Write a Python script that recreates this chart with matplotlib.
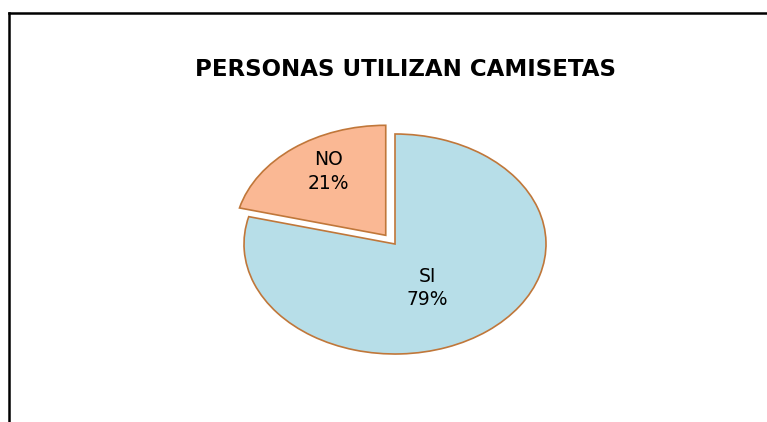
import matplotlib
matplotlib.use("Agg")
import matplotlib.pyplot as plt
import numpy as np

# data
categories = ["SI", "NO"]
values = [79, 21]
colors = ["#B7DEE8", "#FAB894"]
explode = [0, 0.1]
# label placement (radius, angle shift in degrees) inside each slice
label_dist = [0.455, 0.695]
label_shift = [-9.5, -4.0]

edge_color = "#C0773A"

fig = plt.figure(figsize=(7.67, 4.22), dpi=100)

# frame lines (top and left edge of the chart area)
fig.add_artist(plt.Line2D([9 / 767, 9 / 767], [0, 1 - 13 / 422], color="black", lw=1.8))
fig.add_artist(plt.Line2D([9 / 767, 1], [1 - 13 / 422, 1 - 13 / 422], color="black", lw=1.8))

fig.text(405.5 / 767, 1 - 70 / 422, "PERSONAS UTILIZAN CAMISETAS", ha="center", va="center",
         fontsize=16.5, fontweight="bold", family="DejaVu Sans")

# pie area: ellipse centre (395, 244) px, rx 151, ry 110
lim = 1.3
cx, cy, rx, ry = 395, 244, 151, 110
ax = fig.add_axes([(cx - rx * lim) / 767, 1 - (cy + ry * lim) / 422,
                   2 * rx * lim / 767, 2 * ry * lim / 422])

wedges, _ = ax.pie(values, colors=colors, explode=explode, startangle=90,
                   counterclock=False,
                   wedgeprops=dict(edgecolor=edge_color, linewidth=1.2))
ax.set_aspect("auto")
ax.set_xlim(-lim, lim)
ax.set_ylim(-lim, lim)
ax.axis("off")

for w, cat, v, d, s, e in zip(wedges, categories, values, label_dist, label_shift, explode):
    mid = np.deg2rad((w.theta1 + w.theta2) / 2 + s)
    x = (d + e) * np.cos(mid)
    y = (d + e) * np.sin(mid)
    ax.text(x, y, "%s\n%d%%" % (cat, v), ha="center", va="center",
            fontsize=13.5, family="DejaVu Sans", linespacing=1.3)

fig.savefig("out.png", dpi=100)
